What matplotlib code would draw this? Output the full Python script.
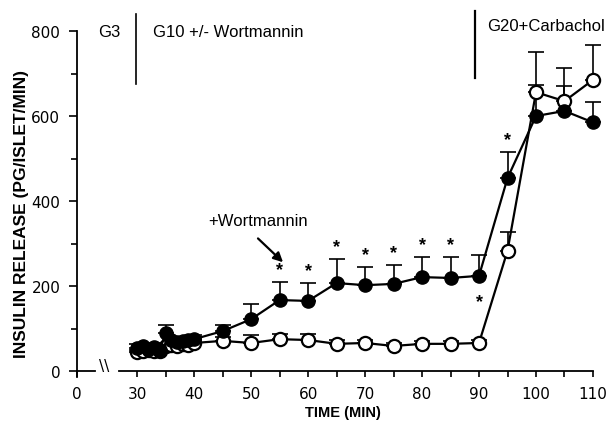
import numpy as np
import matplotlib.pyplot as plt
from matplotlib.ticker import MultipleLocator

# time points (min) and insulin release (pg/islet/min), mean and upper SEM
time = [30, 31, 32, 33, 34, 35, 36, 37, 38, 39, 40, 45, 50, 55, 60, 65, 70, 75, 80, 85, 90, 95, 100, 105, 110]
wort_mean = [55, 58, 52, 57, 50, 90, 72, 68, 70, 72, 75, 94, 122, 167, 165, 207, 202, 205, 221, 219, 224, 454, 600, 612, 585]
wort_sem = [8, 6, 6, 6, 5, 18, 8, 6, 8, 8, 10, 14, 36, 42, 42, 56, 43, 44, 47, 49, 49, 61, 73, 58, 47]
ctrl_mean = [45, 48, 50, 46, 48, 60, 62, 60, 63, 62, 66, 71, 66, 75, 73, 64, 66, 59, 64, 64, 66, 283, 656, 635, 685]
ctrl_sem = [5, 5, 5, 5, 5, 5, 6, 5, 6, 6, 6, 8, 19, 12, 14, 8, 8, 8, 6, 6, 6, 43, 95, 78, 82]

# significance marks
star_above = [55, 60, 65, 70, 75, 80, 85, 95]
star_below = [90]

# phase boundaries and labels
phase_lines = [29.8, 89.3]
phase_text = ['G3', 'G10 +/- Wortmannin', 'G20+Carbachol']
phase_text_x = [23.2, 32.8, 91.4]

text_font = 'Liberation Sans'

fig = plt.figure(figsize=(6.12, 4.31), dpi=100)
ax0 = fig.add_axes([0.1258, 0.1220, 0.0294, 0.8037])
ax = fig.add_axes([0.1944, 0.1220, 0.7745, 0.8037])

ylim = (-15, 800)

# left stub with the y axis
ax0.set_xlim(0, 1)
ax0.set_ylim(*ylim)
ax0.spines['top'].set_visible(False)
ax0.spines['right'].set_visible(False)
ax0.spines['bottom'].set_position(('data', 0))
ax0.set_xticks([0])
ax0.set_xticklabels(['0'])
ax0.yaxis.set_major_locator(MultipleLocator(200))
ax0.yaxis.set_minor_locator(MultipleLocator(100))
ax0.tick_params(axis='y', which='major', length=6, width=1.2, labelsize=11, pad=6)
ax0.tick_params(axis='y', which='minor', length=4, width=1.2)
ax0.tick_params(axis='x', length=4.5, width=1.2, labelsize=11, pad=6)
for s in ['left', 'bottom']:
    ax0.spines[s].set_linewidth(1.3)
ax0.text(1.25, 14, '\\\\', fontsize=11, ha='left', va='center', clip_on=False)

# main axes
ax.set_xlim(26.8, 110)
ax.set_ylim(*ylim)
for s in ['top', 'right', 'left']:
    ax.spines[s].set_visible(False)
ax.spines['bottom'].set_position(('data', 0))
ax.spines['bottom'].set_linewidth(1.3)
ax.set_yticks([])
ax.set_xticks(range(30, 111, 10))
ax.xaxis.set_minor_locator(MultipleLocator(5))
ax.tick_params(axis='x', which='both', length=4.5, width=1.2, labelsize=11, pad=6)

zeros = np.zeros(len(time))
ax.errorbar(time, ctrl_mean, yerr=[zeros, ctrl_sem], fmt='none', ecolor='black',
            elinewidth=1.2, capsize=6, capthick=1.2, clip_on=False, zorder=2)
ax.errorbar(time, wort_mean, yerr=[zeros, wort_sem], fmt='none', ecolor='black',
            elinewidth=1.2, capsize=6, capthick=1.2, clip_on=False, zorder=2)
ax.plot(time, ctrl_mean, '-o', color='black', lw=1.6, ms=9.5, mfc='white', mec='black',
        mew=1.6, clip_on=False, zorder=3)
ax.plot(time, wort_mean, '-o', color='black', lw=1.6, ms=9.5, mfc='black', mec='black',
        clip_on=False, zorder=4)

for t in star_above:
    i = time.index(t)
    ax.annotate('*', (t, wort_mean[i] + wort_sem[i]), xytext=(0, 3), textcoords='offset points',
                ha='center', va='bottom', fontsize=13, fontweight='bold', family=text_font)
for t in star_below:
    i = time.index(t)
    ax.annotate('*', (t, wort_mean[i]), xytext=(0, -25), textcoords='offset points',
                ha='center', va='bottom', fontsize=13, fontweight='bold', family=text_font)

# phase markers
ax.plot([phase_lines[0]] * 2, [675, 840], color='black', lw=1.2, clip_on=False)
ax.plot([phase_lines[1]] * 2, [690, 848], color='black', lw=1.6, clip_on=False)
ax.text(phase_text_x[0], 800, phase_text[0], ha='left', va='center', fontsize=12, family=text_font)
ax.text(phase_text_x[1], 800, phase_text[1], ha='left', va='center', fontsize=12, family=text_font)
ax.text(phase_text_x[2], 812, phase_text[2], ha='left', va='center', fontsize=12, family=text_font)

ax.text(51.2, 355, '+Wortmannin', ha='center', va='center', fontsize=12, family=text_font)
ax.annotate('', xy=(55.6, 256), xytext=(51.2, 312),
            arrowprops=dict(arrowstyle='-|>', color='black', lw=1.6, mutation_scale=14,
                            shrinkA=0, shrinkB=0))

fig.text(343 / 612, 1 - 413 / 431, 'TIME (MIN)', ha='center', va='center',
         fontsize=10.5, fontweight='bold', family=text_font)
fig.text(22 / 612, 1 - 214 / 431, 'INSULIN RELEASE (PG/ISLET/MIN)', ha='center', va='center',
         rotation=90, fontsize=12.5, fontweight='bold', family=text_font)

fig.savefig('out.png', dpi=100)
